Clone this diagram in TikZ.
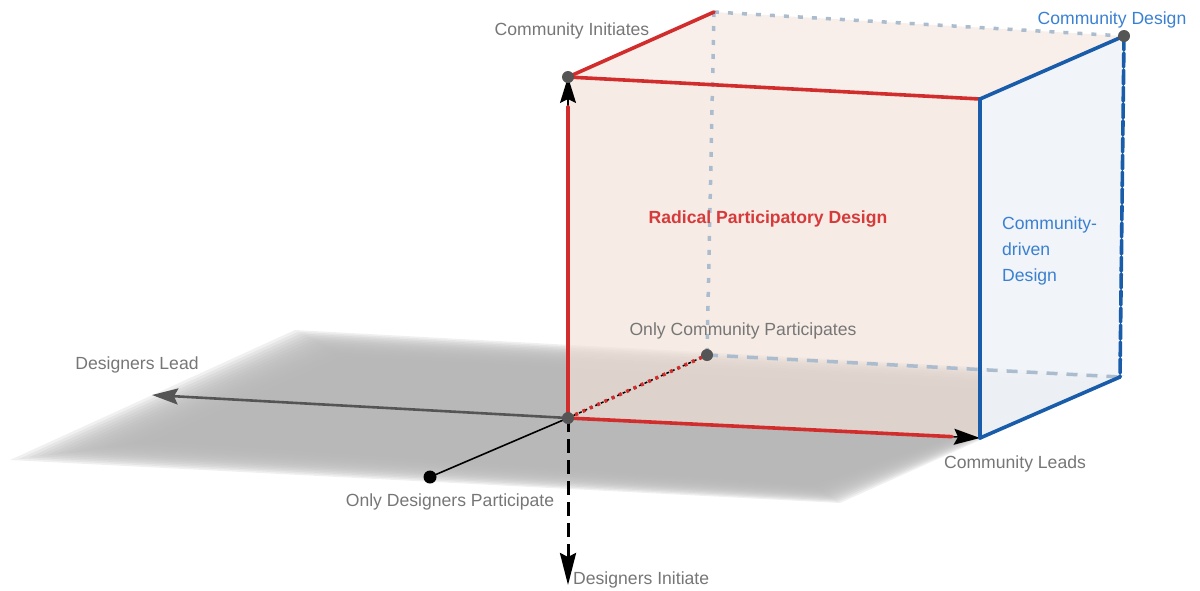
\documentclass[tikz,border=0pt]{standalone}
\usepackage{fontspec}
\setmainfont{Liberation Sans}
\usetikzlibrary{arrows.meta,calc}
\definecolor{redE}{RGB}{210,45,45}
\definecolor{redT}{RGB}{214,58,58}
\definecolor{blueE}{RGB}{25,92,170}
\definecolor{blueT}{RGB}{58,128,210}
\definecolor{grayT}{RGB}{118,118,118}
\definecolor{peach}{RGB}{242,226,216}
\definecolor{lblue}{RGB}{240,245,251}
\definecolor{backL}{RGB}{170,188,205}
\definecolor{planeG}{RGB}{182,182,182}
\definecolor{ptG}{RGB}{85,85,85}
\tikzset{
  lbl/.style={text=grayT, inner sep=0pt, font=\fontsize{17.6}{26}\selectfont},
  redEdge/.style={draw=redE, line width=3.6pt, line cap=round},
  blueEdge/.style={draw=blueE, line width=3.6pt, line cap=round},
  backDot/.style={draw=backL, line width=3.5pt, dash pattern=on 5pt off 9pt},
  backDash/.style={draw=backL, line width=3.5pt, dash pattern=on 11pt off 9pt},
  pt/.style={circle, fill=ptG, minimum size=12pt, inner sep=0pt},
  arr/.style={-{Stealth[length=26pt,width=16pt,inset=4pt]}},
  bigarr/.style={-{Stealth[length=32pt,width=16pt,inset=4pt]}},
}
\begin{document}
\begin{tikzpicture}[x=1pt,y=-1pt]
\useasboundingbox (0,0) rectangle (1200,590);
% key points
\coordinate (O) at (568,418);
\coordinate (T) at (568,77);
\coordinate (FTR) at (980,99);
\coordinate (FBR) at (980,438);
\coordinate (BTL) at (714,12);
\coordinate (BTR) at (1124,36);
\coordinate (BBL) at (707,355);
\coordinate (BBR) at (1120,377);
\coordinate (DL) at (152,395);
\coordinate (DP) at (430,477);
\coordinate (DI) at (568,585);
% floor plane with soft edges
\foreach \t in {0,0.0625,...,1.0}{
  \fill[planeG, opacity=0.2]
    ($(10,460)!\t!(160,440)$) -- ($(295,330)!\t!(345,358)$) --
    ($(1125,375)!\t!(1075,394)$) -- ($(840,503)!\t!(812,484)$) -- cycle;
}
% box faces
\fill[peach, opacity=0.55] (O) -- (T) -- (BTL) -- (BTR) -- (BBR) -- (FBR) -- cycle;
\fill[lblue, opacity=0.85] (FTR) -- (BTR) -- (BBR) -- (FBR) -- cycle;
\fill[peach, opacity=0.25] (O) -- (T) -- (FTR) -- (FBR) -- cycle;
% hidden back edges
\draw[backDot] (BTL) -- (BBL);
\draw[backDot] (BTL) -- (BTR);
\draw[backDash] (BBL) -- (BBR);
% axes
\draw[ptG, line width=2.6pt, arr] (O) -- (DL);
\draw[black, line width=1.6pt] (O) -- (DP);
\fill[black] (DP) circle (6.5pt);
\draw[black, line width=3pt, dash pattern=on 14pt off 7pt, bigarr] (O) -- (DI);
\draw[black, line width=1.5pt, dashed] (O) -- (BBL);
\draw[redE, line width=3.6pt, dash pattern=on 3pt off 5pt] (O) -- (BBL);
\draw[black, line width=1.5pt, arr] (O) -- (T);
\draw[black, line width=1.5pt, arr] (O) -- (FBR);
% red edges
\draw[redEdge, shorten >=30pt] (O) -- (T);
\draw[redEdge, shorten >=28pt] (O) -- (FBR);
\draw[redEdge] (T) -- (FTR);
\draw[redEdge] (T) -- (BTL);
% blue edges
\draw[blueEdge] (FTR) -- (BTR);
\draw[blueEdge] (FTR) -- (FBR);
\draw[blueEdge] (FBR) -- (BBR);
\draw[blueEdge, dash pattern=on 14pt off 3pt] (BTR) -- (BBR);
% points
\node[pt] (pT) at (T) {};
\node[pt] (pBTR) at (BTR) {};
\node[pt] (pO) at (O) {};
\node[pt] (pBBL) at (BBL) {};
% labels
\node[lbl] (lCI) at (572,31) {Community Initiates};
\node[lbl, text=blueT] (lCD) at (1112,20) {Community Design};
\node[lbl, text=redT, font=\fontsize{17.6}{26}\selectfont\bfseries] (lRPD) at (768,219) {Radical Participatory Design};
\node[lbl, text=blueT, anchor=west, align=left] (lCDD) at (1002,251) {Community-\\driven\\Design};
\node[lbl] (lOCP) at (743,331) {Only Community Participates};
\node[lbl] (lDL) at (137,365) {Designers Lead};
\node[lbl] (lCL) at (1015,464) {Community Leads};
\node[lbl] (lODP) at (450,502) {Only Designers Participate};
\node[lbl, anchor=west] (lDI) at (573,580) {Designers Initiate};
\end{tikzpicture}
\end{document}
